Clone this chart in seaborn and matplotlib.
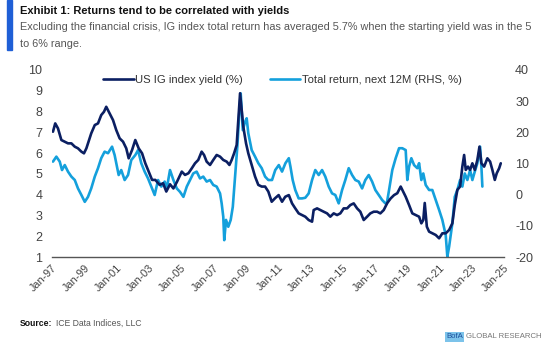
import matplotlib
matplotlib.use("Agg")
import matplotlib.pyplot as plt
import matplotlib.patches as mpatches
import seaborn as sns
import pandas as pd

# US IG index yield (%), left axis -- decimal year, value
dark_year = [1997.06, 1997.20, 1997.37, 1997.58, 1997.79, 1997.99, 1998.20, 1998.41, 1998.61, 1998.82,
             1998.98, 1999.13, 1999.23, 1999.43, 1999.65, 1999.85, 2000.05, 2000.22, 2000.36, 2000.57,
             2000.78, 2000.98, 2001.19, 2001.40, 2001.60, 2001.75, 2001.96, 2002.16, 2002.37, 2002.58,
             2002.78, 2002.99, 2003.20, 2003.40, 2003.67, 2003.88, 2004.08, 2004.31, 2004.52, 2004.73,
             2005.04, 2005.24, 2005.45, 2005.66, 2005.86, 2006.06, 2006.27, 2006.42, 2006.58, 2006.79,
             2006.99, 2007.20, 2007.41, 2007.61, 2007.82, 2007.99, 2008.13, 2008.28, 2008.44, 2008.54,
             2008.65, 2008.75, 2008.85, 2009.02, 2009.16, 2009.37, 2009.58, 2009.78, 2009.99, 2010.20,
             2010.40, 2010.61, 2010.82, 2011.04, 2011.25, 2011.45, 2011.67, 2011.87, 2012.07, 2012.28,
             2012.49, 2012.69, 2012.90, 2013.11, 2013.21, 2013.42, 2013.62, 2013.83, 2014.04, 2014.24,
             2014.45, 2014.66, 2014.86, 2015.07, 2015.28, 2015.48, 2015.69, 2015.90, 2016.10, 2016.31,
             2016.52, 2016.72, 2016.93, 2017.14, 2017.34, 2017.55, 2017.77, 2017.98, 2018.19, 2018.39,
             2018.60, 2018.70, 2018.91, 2019.12, 2019.32, 2019.53, 2019.74, 2019.88, 2020.00, 2020.09,
             2020.22, 2020.36, 2020.56, 2020.77, 2020.98, 2021.18, 2021.39, 2021.60, 2021.80, 2021.95,
             2022.11, 2022.28, 2022.42, 2022.53, 2022.63, 2022.77, 2022.90, 2023.04, 2023.19, 2023.35,
             2023.48, 2023.60, 2023.77, 2023.97, 2024.14, 2024.28, 2024.43, 2024.55, 2024.70, 2024.80]
dark_val = [7.03, 7.43, 7.19, 6.63, 6.55, 6.47, 6.47, 6.31, 6.23, 6.07,
            5.99, 6.23, 6.47, 6.95, 7.35, 7.43, 7.83, 7.99, 8.23, 7.91,
            7.59, 7.11, 6.71, 6.55, 6.23, 5.75, 6.15, 6.63, 6.23, 5.99,
            5.51, 5.11, 4.71, 4.71, 4.47, 4.55, 4.15, 4.50, 4.30, 4.60,
            5.11, 4.95, 5.03, 5.27, 5.51, 5.67, 6.07, 5.91, 5.59, 5.43,
            5.67, 5.91, 5.83, 5.67, 5.59, 5.43, 5.67, 5.99, 6.39, 7.59,
            8.88, 8.07, 7.27, 6.47, 5.99, 5.43, 4.87, 4.47, 4.39, 4.39,
            4.15, 3.66, 3.83, 3.98, 3.66, 3.90, 3.98, 3.58, 3.34, 3.10,
            3.02, 2.94, 2.78, 2.70, 3.26, 3.34, 3.26, 3.18, 3.10, 2.94,
            3.10, 3.02, 3.10, 3.34, 3.34, 3.50, 3.58, 3.34, 3.18, 2.78,
            2.94, 3.10, 3.18, 3.18, 3.10, 3.26, 3.60, 3.82, 3.98, 4.07,
            4.39, 4.23, 3.90, 3.50, 3.10, 3.02, 2.94, 2.62, 2.78, 3.60,
            2.46, 2.22, 2.14, 2.06, 1.90, 2.14, 2.14, 2.30, 2.62, 3.50,
            4.23, 4.39, 5.35, 5.91, 5.19, 5.35, 5.19, 5.51, 5.19, 5.67,
            6.31, 5.51, 5.35, 5.75, 5.59, 5.19, 4.71, 5.03, 5.27, 5.51]

# Total return, next 12M (RHS, %) -- decimal year, value
light_year = [1997.06, 1997.27, 1997.48, 1997.62, 1997.79, 1997.99, 1998.20, 1998.41, 1998.61, 1998.82,
              1999.03, 1999.23, 1999.43, 1999.65, 1999.85, 2000.05, 2000.26, 2000.47, 2000.72, 2000.88,
              2001.13, 2001.29, 2001.50, 2001.71, 2001.91, 2002.16, 2002.33, 2002.53, 2002.74, 2002.95,
              2003.15, 2003.36, 2003.57, 2003.77, 2003.98, 2004.11, 2004.31, 2004.52, 2004.73, 2004.93,
              2005.14, 2005.35, 2005.55, 2005.75, 2005.96, 2006.17, 2006.37, 2006.58, 2006.79, 2006.99,
              2007.20, 2007.41, 2007.51, 2007.61, 2007.67, 2007.78, 2007.92, 2008.07, 2008.20, 2008.34,
              2008.48, 2008.60, 2008.69, 2008.82, 2008.96, 2009.06, 2009.16, 2009.37, 2009.58, 2009.78,
              2009.99, 2010.20, 2010.40, 2010.63, 2010.83, 2011.05, 2011.25, 2011.46, 2011.67, 2011.77,
              2011.91, 2012.07, 2012.28, 2012.49, 2012.69, 2012.90, 2013.11, 2013.31, 2013.52, 2013.73,
              2013.93, 2014.14, 2014.35, 2014.55, 2014.76, 2014.97, 2015.17, 2015.38, 2015.59, 2015.79,
              2016.00, 2016.21, 2016.41, 2016.62, 2016.83, 2017.03, 2017.24, 2017.45, 2017.65, 2017.74,
              2017.88, 2018.08, 2018.29, 2018.50, 2018.70, 2018.91, 2019.01, 2019.12, 2019.26, 2019.43,
              2019.63, 2019.74, 2019.88, 2020.00, 2020.15, 2020.36, 2020.56, 2020.77, 2020.98, 2021.18,
              2021.39, 2021.49, 2021.60, 2021.80, 2021.95, 2022.11, 2022.28, 2022.42, 2022.57, 2022.73,
              2022.90, 2023.04, 2023.19, 2023.35, 2023.52, 2023.60, 2023.66]
light_ret = [10.6, 12.2, 10.6, 7.9, 9.5, 7.4, 5.8, 4.7, 2.0, -0.1,
             -2.3, -0.7, 2.0, 5.8, 8.5, 11.7, 13.8, 13.3, 15.4, 12.7,
             6.3, 7.9, 4.7, 6.3, 11.1, 12.7, 14.3, 10.1, 7.4, 5.2,
             2.6, -0.1, 4.7, 2.6, 4.2, 2.0, 7.9, 4.7, 2.0, 0.9,
             -0.7, 2.6, 4.7, 6.8, 7.4, 5.2, 5.8, 4.2, 4.7, 3.1,
             2.6, 0.4, -2.8, -7.1, -14.6, -8.1, -10.3, -8.1, -3.9, 5.8,
             15.4, 26.1, 32.5, 20.7, 23.4, 24.5, 19.7, 14.3, 12.2, 10.1,
             8.5, 5.8, 4.7, 4.7, 7.9, 9.5, 7.4, 10.1, 11.7, 9.0,
             4.7, 1.5, -1.2, -1.2, -1.0, 0.4, 4.7, 7.9, 6.3, 7.9,
             5.8, 2.6, 0.4, -0.1, -2.8, 1.5, 4.7, 8.5, 6.3, 4.7,
             4.2, 2.0, 4.7, 6.3, 4.2, 1.5, -0.1, -1.7, -2.8, -2.8,
             1.5, 7.9, 11.7, 14.9, 14.9, 14.3, 4.7, 9.0, 11.7, 9.5,
             8.5, 10.1, 4.7, 6.8, 3.1, 1.5, 1.5, -1.7, -4.9, -8.1,
             -13.0, -19.9, -16.7, -9.2, -0.7, 1.5, 4.7, 2.6, 6.8, 4.7,
             7.9, 4.7, 7.4, 10.1, 15.4, 9.0, 2.6]

tick_years = list(range(1997, 2026, 2))
tick_labels = ["Jan-97", "Jan-99", "Jan-01", "Jan-03", "Jan-05", "Jan-07", "Jan-09", "Jan-11",
               "Jan-13", "Jan-15", "Jan-17", "Jan-19", "Jan-21", "Jan-23", "Jan-25"]

dark = "#0b1f62"
light = "#14a0dc"
txt = "#444444"

sns.set_style("white")
plt.rcParams["font.family"] = ["Liberation Sans", "DejaVu Sans"]
plt.rcParams["axes.unicode_minus"] = False

fig = plt.figure(figsize=(5.6, 3.57), dpi=100)
ax = fig.add_axes([52 / 560, 1 - 257 / 357, 452 / 560, 187 / 357])
ax2 = ax.twinx()

sns.lineplot(x=light_year, y=light_ret, ax=ax2, color=light, lw=1.9,
             label="Total return, next 12M (RHS, %)", legend=False)
sns.lineplot(x=dark_year, y=dark_val, ax=ax, color=dark, lw=1.9,
             label="US IG index yield (%)", legend=False)
ax.set_zorder(ax2.get_zorder() + 1)
ax.patch.set_visible(False)

ax.set_xlim(1997, 2025)
ax.set_ylim(1, 10)
ax2.set_ylim(-20, 40)
ax.set_yticks(range(1, 11))
ax2.set_yticks(range(-20, 41, 10))
ax.set_xticks(tick_years)
ax.set_xticklabels(tick_labels, rotation=45, ha="right", rotation_mode="anchor")

for a in (ax, ax2):
    for s in a.spines.values():
        s.set_visible(False)
    a.set_xlabel("")
    a.set_ylabel("")
ax.spines["bottom"].set_visible(True)
ax.spines["bottom"].set_color("#555555")
ax.spines["bottom"].set_linewidth(1.0)
ax.tick_params(axis="y", length=0, pad=7, labelsize=9, labelcolor=txt)
ax2.tick_params(axis="y", length=0, pad=8, labelsize=9, labelcolor=txt)
ax.tick_params(axis="x", length=0, pad=4, labelsize=7.8, labelcolor=txt)

h1, l1 = ax.get_legend_handles_labels()
h2, l2 = ax2.get_legend_handles_labels()
leg = ax.legend(h1 + h2, l1 + l2, loc="center", bbox_to_anchor=(0.51, 0.945), ncol=2,
                frameon=False, handlelength=2.7, handletextpad=0.15, columnspacing=2.4,
                fontsize=8.1)
for t in leg.get_texts():
    t.set_color("#333333")

# header
fig.patches.append(mpatches.Rectangle((6.5 / 560, 1 - 50 / 357), 5.5 / 560, 50 / 357,
                                      transform=fig.transFigure, color="#1f5fd6"))
fig.text(20 / 560, 1 - 11 / 357, "Exhibit 1: Returns tend to be correlated with yields",
         fontsize=8.0, fontweight="bold", color="#111111", va="center")
fig.text(20 / 560, 1 - 27.5 / 357,
         "Excluding the financial crisis, IG index total return has averaged 5.7% when the starting yield was in the 5",
         fontsize=7.8, color="#555555", va="center")
fig.text(20 / 560, 1 - 44 / 357, "to 6% range.", fontsize=7.8, color="#555555", va="center")

# footer
src = fig.text(20 / 560, 1 - 323 / 357, "Source:", fontsize=6.2, fontweight="bold",
               color="#111111", va="center")
fig.canvas.draw()
src_end = fig.transFigure.inverted().transform(
    (src.get_window_extent().x1 + 3, 0))[0]
fig.text(src_end, 1 - 323 / 357, "ICE Data Indices, LLC", fontsize=6.2, color="#555555",
         va="center")
fig.text(446 / 560, 1 - 337 / 357, "BofA", fontsize=5.6, color="#1b4f9c", va="center",
         bbox=dict(boxstyle="square,pad=0.15", fc="#7cc3ea", ec="none"))
fig.text(466 / 560, 1 - 337 / 357, "GLOBAL RESEARCH", fontsize=5.6, color="#777777",
         va="center")

fig.savefig("out.png", dpi=100)
